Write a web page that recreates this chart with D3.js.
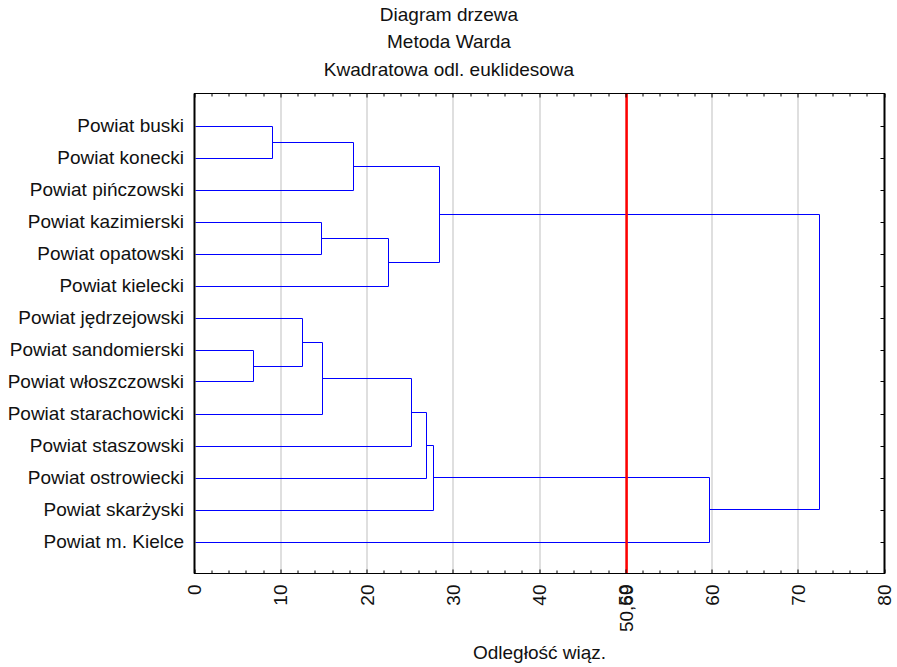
<!DOCTYPE html>
<html><head><meta charset="utf-8">
<script src="https://cdn.jsdelivr.net/npm/d3@7"></script>
<style>body{margin:0;background:#fff}svg{display:block}text{font-family:"Liberation Sans",Arial,sans-serif;fill:#111}</style>
</head><body><svg id="c" width="897" height="667"></svg>
<script>
const leaves = ["Powiat buski","Powiat konecki","Powiat pińczowski","Powiat kazimierski","Powiat opatowski","Powiat kielecki","Powiat jędrzejowski","Powiat sandomierski","Powiat włoszczowski","Powiat starachowicki","Powiat staszowski","Powiat ostrowiecki","Powiat skarżyski","Powiat m. Kielce"];
// merges: [childA, childB, height]; children are leaf names or merge ids "m0".."m12"
const mergeA = ["Powiat buski","m0","Powiat kazimierski","m2","m1","Powiat sandomierski","Powiat jędrzejowski","m6","m7","m8","m9","m10","m4"];
const mergeB = ["Powiat konecki","Powiat pińczowski","Powiat opatowski","Powiat kielecki","m3","Powiat włoszczowski","m5","Powiat starachowicki","Powiat staszowski","Powiat ostrowiecki","Powiat skarżyski","Powiat m. Kielce","m11"];
const mergeH = [9.0,18.4,14.65,22.45,28.3,6.8,12.45,14.8,25.1,26.8,27.65,59.7,72.4];
const cutValue = 50.1;
const cutLabel = "50,69";
const xTicks = [0,10,20,30,40,50,60,70,80];
const titles = ["Diagram drzewa","Metoda Warda","Kwadratowa odl. euklidesowa"];
const xTitle = "Odległość wiąz.";

const FS = 19;
const svg = d3.select("#c");
const L=194.5, R=884.5, T=93.5, B=573.5;
const x = d3.scaleLinear().domain([0,80]).range([L,R]);
const y = d3.scaleLinear().domain([0,leaves.length+1]).range([T,B]);

// titles
titles.forEach((t,i)=>svg.append("text").attr("x",449).attr("y",21+i*27.3).attr("text-anchor","middle").attr("font-size",FS).text(t));

// grid
const g = svg.append("g");
g.selectAll("line.grid").data(xTicks.filter(d=>d>0&&d<80)).enter().append("line")
 .attr("x1",d=>Math.round(x(d))).attr("x2",d=>Math.round(x(d))).attr("y1",T).attr("y2",B)
 .attr("stroke","#d4d4d4").attr("stroke-width",1.5);

// dendrogram
const pos = {};
leaves.forEach((n,i)=>pos[n]={x:0,y:y(i+1)});
const segs=[];
mergeA.forEach((a,i)=>{
  const b=mergeB[i], h=mergeH[i], pa=pos[a], pb=pos[b];
  const hx=x(h);
  segs.push([x(pa.x),pa.y,hx,pa.y]);
  segs.push([x(pb.x),pb.y,hx,pb.y]);
  segs.push([hx,pa.y,hx,pb.y]);
  pos["m"+i]={x:h,y:(pa.y+pb.y)/2};
});
g.selectAll("line.seg").data(segs).enter().append("line")
 .attr("x1",d=>Math.round(d[0])+0.5).attr("y1",d=>Math.round(d[1])+0.5)
 .attr("x2",d=>Math.round(d[2])+0.5).attr("y2",d=>Math.round(d[3])+0.5)
 .attr("stroke","#0000ff").attr("stroke-width",1);

// cut line
g.append("line").attr("x1",x(cutValue)).attr("x2",x(cutValue)).attr("y1",T).attr("y2",B)
 .attr("stroke","#ff0000").attr("stroke-width",2.5);

// frame
svg.append("rect").attr("x",L).attr("y",T).attr("width",R-L).attr("height",B-T).attr("fill","none").attr("stroke","#000").attr("stroke-width",1);
svg.append("line").attr("x1",L).attr("x2",L).attr("y1",T).attr("y2",B).attr("stroke","#000").attr("stroke-width",2);
svg.append("line").attr("x1",R).attr("x2",R).attr("y1",T).attr("y2",B).attr("stroke","#000").attr("stroke-width",2);

// ticks
const minor = d3.range(0,81,2);
svg.selectAll("line.tt").data(minor).enter().append("line")
 .attr("x1",d=>Math.round(x(d))).attr("x2",d=>Math.round(x(d))).attr("y1",T).attr("y2",d=>T+(d%10===0?4:3)).attr("stroke","#000");
svg.selectAll("line.bt").data(minor).enter().append("line")
 .attr("x1",d=>Math.round(x(d))).attr("x2",d=>Math.round(x(d))).attr("y1",B).attr("y2",d=>B-(d%10===0?4:3)).attr("stroke","#000");
svg.selectAll("line.rt").data(leaves).enter().append("line")
 .attr("x1",R).attr("x2",R-4).attr("y1",(d,i)=>Math.round(y(i+1))+0.5).attr("y2",(d,i)=>Math.round(y(i+1))+0.5).attr("stroke","#000");

// leaf labels
svg.selectAll("text.lab").data(leaves).enter().append("text")
 .attr("x",184).attr("y",(d,i)=>y(i+1)).attr("dy","0.35em").attr("text-anchor","end").attr("font-size",FS).text(d=>d);

// x tick labels
const xl = xTicks.map(d=>({v:d,t:String(d)})).concat([{v:cutValue,t:cutLabel}]);
svg.selectAll("text.xl").data(xl).enter().append("text")
 .attr("transform",d=>`translate(${x(d.v)+6.5},${B+11}) rotate(-90)`)
 .attr("text-anchor","end").attr("font-size",FS).text(d=>d.t);

svg.append("text").attr("x",(L+R)/2).attr("y",659).attr("text-anchor","middle").attr("font-size",FS).text(xTitle);
</script></body></html>
